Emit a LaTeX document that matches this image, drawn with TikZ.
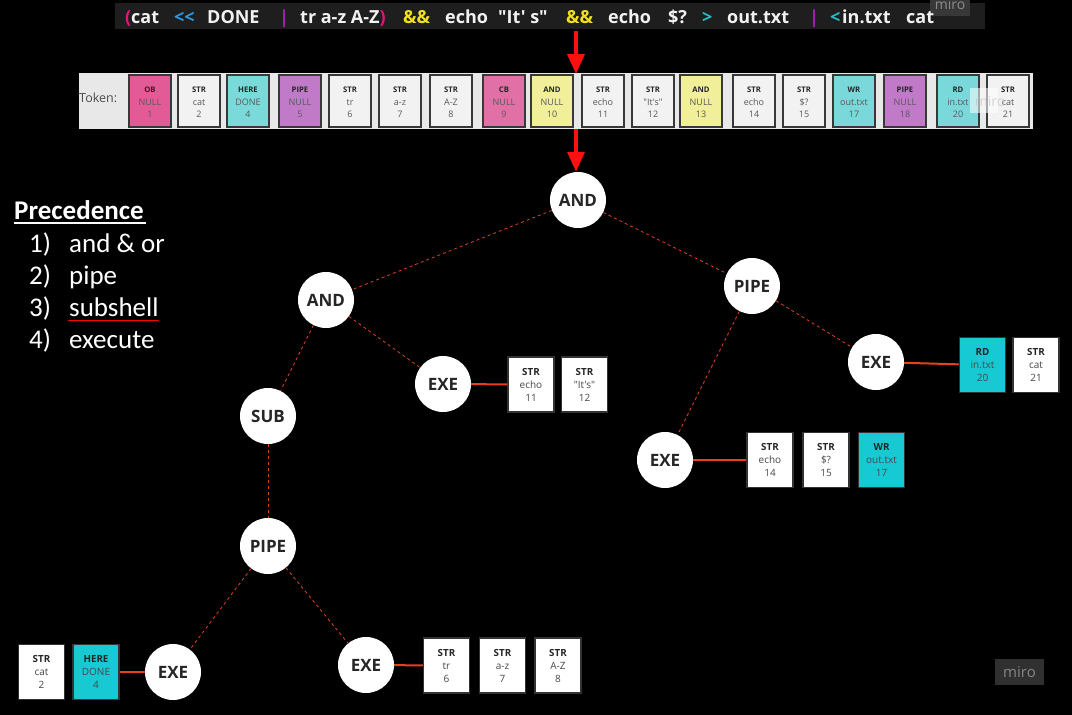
\documentclass[tikz,border=0pt]{standalone}
\usepackage{fontspec}
\setmainfont{Open Sans}[Ligatures=TeXOff]
\newfontfamily\calib{Carlito}
\usetikzlibrary{arrows.meta,calc}
\definecolor{barbg}{HTML}{1E1E1E}
\definecolor{stripbg}{HTML}{E8E8E8}
\definecolor{cmag}{HTML}{E0157A}
\definecolor{cblue}{HTML}{2A9BE8}
\definecolor{cpurp}{HTML}{A020B0}
\definecolor{cyell}{HTML}{F0E020}
\definecolor{ccyan}{HTML}{20C0C8}
\definecolor{ctext}{HTML}{F2F2F2}
\definecolor{tOB}{HTML}{E25A96}
\definecolor{tCB}{HTML}{E070A6}
\definecolor{tHERE}{HTML}{7ADADA}
\definecolor{tPIPE}{HTML}{C07AC8}
\definecolor{tAND}{HTML}{F2EF9A}
\definecolor{tSTR}{HTML}{F2F2F2}
\definecolor{tWR}{HTML}{7AD8DA}
\definecolor{treecyan}{HTML}{16C9D3}
\definecolor{edgered}{HTML}{E8401C}
\definecolor{dashred}{HTML}{DE4418}
\definecolor{arrred}{HTML}{FF1010}
\begin{document}
\begin{tikzpicture}[x=1pt,y=-1pt,
  cmd/.style={anchor=base west,inner sep=0pt,font=\fontsize{18}{20}\selectfont\bfseries,text=ctext},
  tokbox/.style={draw=black!78,line width=1.5pt,minimum width=42pt,minimum height=52pt,inner sep=0pt},
  tokt/.style={font=\fontsize{7.7}{8}\selectfont\bfseries,text=black!85,inner sep=0pt,anchor=base},
  tokv/.style={font=\fontsize{9}{10}\selectfont,text=black!65,inner sep=0pt,anchor=base},
  treebox/.style={draw=black!80,line width=1.5pt,minimum width=46pt,minimum height=55pt,inner sep=0pt},
  treet/.style={font=\fontsize{9.8}{10}\selectfont\bfseries,text=black!85,inner sep=0pt,anchor=base},
  treev/.style={font=\fontsize{10}{11}\selectfont,text=black!72,inner sep=0pt,anchor=base},
  opnode/.style={circle,fill=white,minimum size=56pt,inner sep=0pt,font=\fontsize{17}{18}\selectfont\bfseries,text=black!85},
  dashedge/.style={dashred,line width=0.8pt,dash pattern=on 3pt off 3pt},
  solidedge/.style={edgered,line width=2pt},
  bigarrow/.style={arrred,line width=3.5pt,-{Triangle[width=17pt,length=20pt]}},
  prec/.style={anchor=base west,inner sep=0pt,font=\calib\fontsize{27}{29}\selectfont,text=white}
]
\fill[black] (0,0) rectangle (1072,715);
\useasboundingbox (0,0) rectangle (1072,715);

% ---------- command bar ----------
\fill[barbg] (115,3) rectangle (985,29);
\begin{scope}
\clip (930,0) rectangle (970,16);
\fill[black!78] (930,0) rectangle (970,16);
\node[anchor=base,inner sep=0pt,font=\fontsize{14}{14}\selectfont,text=black!45] (miro1) at (950,9) {miro};
\end{scope}
\node[cmd,text=cmag] (c1) at (125,23) {(};
\node[cmd] (c2) at (131,23) {cat};
\node[cmd,text=cblue] (c3) at (174,23) {<<};
\node[cmd] (c4) at (207,23) {DONE};
\node[cmd,text=cpurp] (c5) at (279,23) {|};
\node[cmd] (c6) at (300,23) {tr a-z A-Z\textcolor{cmag}{)}};
\node[cmd,text=cyell] (c7) at (403,23) {\&\&};
\node[cmd] (c8) at (445,23) {echo};
\node[cmd] (c9) at (498,23) {"It' s"};
\node[cmd,text=cyell] (c10) at (566,23) {\&\&};
\node[cmd] (c11) at (608,23) {echo};
\node[cmd] (c12) at (668,23) {\$?};
\node[cmd,text=ccyan] (c13) at (702,23) {>};
\node[cmd] (c14) at (727,23) {out.txt};
\node[cmd,text=cpurp] (c15) at (809,23) {|};
\node[cmd,text=ccyan] (c16) at (830,23) {<};
\node[cmd] (c17) at (842,23) {in.txt};
\node[cmd] (c18) at (906,23) {cat};

% ---------- token strip ----------
\fill[stripbg] (79,73) rectangle (1033,129);
\node[anchor=west,inner sep=0pt,font=\fontsize{12.5}{13}\selectfont,text=black!70] (toklab) at (79,98) {Token:};
\foreach \i/\cx/\f/\t/\v/\n in {
  1/150/tOB/OB/NULL/1, 2/199/tSTR/STR/cat/2, 3/248/tHERE/HERE/DONE/4,
  4/300/tPIPE/PIPE/NULL/5, 5/350/tSTR/STR/tr/6, 6/400/tSTR/STR/a-z/7,
  7/451/tSTR/STR/A-Z/8, 8/504/tCB/CB/NULL/9, 9/552/tAND/AND/NULL/10,
  10/603/tSTR/STR/echo/11, 11/653/tSTR/STR/"It's"/12, 12/701/tAND/AND/NULL/13,
  13/754/tSTR/STR/echo/14, 14/804/tSTR/STR/\$?/15, 15/854/tWR/WR/out.txt/17,
  16/905/tPIPE/PIPE/NULL/18, 17/958/tWR/RD/in.txt/20, 18/1008/tSTR/STR/cat/21}{
  \node[tokbox,fill=\f] (tok\i) at (\cx,101) {};
  \node[tokt] (tokt\i) at (\cx,92) {\t};
  \node[tokv] (tokv\i) at (\cx,105) {\v};
  \node[tokv] (tokn\i) at (\cx,117) {\n};
}
\fill[white,opacity=0.55] (970,88) rectangle (998,113);
\node[anchor=base,inner sep=0pt,font=\fontsize{14}{14}\selectfont,text=black!25,opacity=0.6] (miro2) at (990,106) {miro};

% ---------- arrows ----------
\coordinate (a1s) at (576,31);
\coordinate (a1e) at (576,74);
\draw[bigarrow] (a1s) -- (a1e);

% ---------- tree nodes ----------
\node[opnode] (andT) at (578,200) {AND};
\node[opnode] (andL) at (326,300) {AND};
\node[opnode] (pipeR) at (752,286) {PIPE};
\node[opnode] (exeA) at (443,384) {EXE};
\node[opnode] (sub) at (268,416) {SUB};
\node[opnode] (pipeL) at (268,546) {PIPE};
\node[opnode] (exeB) at (876,362) {EXE};
\node[opnode] (exeC) at (665,460) {EXE};
\node[opnode] (exeD) at (173,672) {EXE};
\node[opnode] (exeE) at (366,665) {EXE};

\coordinate (a2s) at (576,129);
\draw[bigarrow] (a2s) -- (andT.north -| a2s);

\draw[dashedge] (andT) -- (andL);
\draw[dashedge] (andT) -- (pipeR);
\draw[dashedge] (andL) -- (sub);
\draw[dashedge] (andL) -- (exeA);
\draw[dashedge] (sub) -- (pipeL);
\draw[dashedge] (pipeL) -- (exeD);
\draw[dashedge] (pipeL) -- (exeE);
\draw[dashedge] (pipeR) -- (exeB);
\draw[dashedge] (pipeR) -- (exeC);

% ---------- tree boxes ----------
\foreach \nm/\cx/\cy/\f/\t/\v/\n in {
  bA1/531/384.5/white/STR/echo/11, bA2/584.5/384.5/white/STR/"It's"/12,
  bB1/982.5/365/treecyan/RD/in.txt/20, bB2/1036/365/white/STR/cat/21,
  bC1/770/460/white/STR/echo/14, bC2/826/460/white/STR/\$?/15, bC3/881.5/460/treecyan/WR/out.txt/17,
  bD1/41.5/672/white/STR/cat/2, bD2/96/672/treecyan/HERE/DONE/4,
  bE1/446.5/665.5/white/STR/tr/6, bE2/502.5/665.5/white/STR/a-z/7, bE3/558/665.5/white/STR/A-Z/8}{
  \node[treebox,fill=\f] (\nm) at (\cx,\cy) {};
  \node[treet] (\nm t) at ($(\cx,\cy)+(0,-9.5)$) {\t};
  \node[treev] (\nm v) at ($(\cx,\cy)+(0,3.5)$) {\v};
  \node[treev] (\nm n) at ($(\cx,\cy)+(0,16.5)$) {\n};
}

\draw[solidedge] (exeA) -- (bA1);
\draw[solidedge] (exeB) -- (bB1);
\draw[solidedge] (exeC) -- (bC1);
\draw[solidedge] (exeE) -- (bE1);
\draw[solidedge] (bD2) -- (exeD);

% ---------- precedence ----------
\node[prec,font=\calib\fontsize{27}{29}\selectfont\bfseries] (ptitle) at (14,219) {Precedence};
\draw[white,line width=1.8pt] (14,223) -- (146,223);
\node[prec] (p1n) at (29,252) {1)};
\node[prec] (p1) at (69,252) {and \& or};
\node[prec] (p2n) at (29,284) {2)};
\node[prec] (p2) at (69,284) {pipe};
\node[prec] (p3n) at (29,316) {3)};
\node[prec] (p3) at (69,316) {subshell};
\draw[red,line width=1.6pt] (68,320.5) -- (159,320.5);
\node[prec] (p4n) at (29,348) {4)};
\node[prec] (p4) at (69,348) {execute};

% ---------- watermark ----------
\fill[black!81] (995,659) rectangle (1044,685);
\node[anchor=base,inner sep=0pt,font=\fontsize{15}{15}\selectfont,text=black!48] (miro3) at (1019.5,677) {miro};
\end{tikzpicture}
\end{document}
